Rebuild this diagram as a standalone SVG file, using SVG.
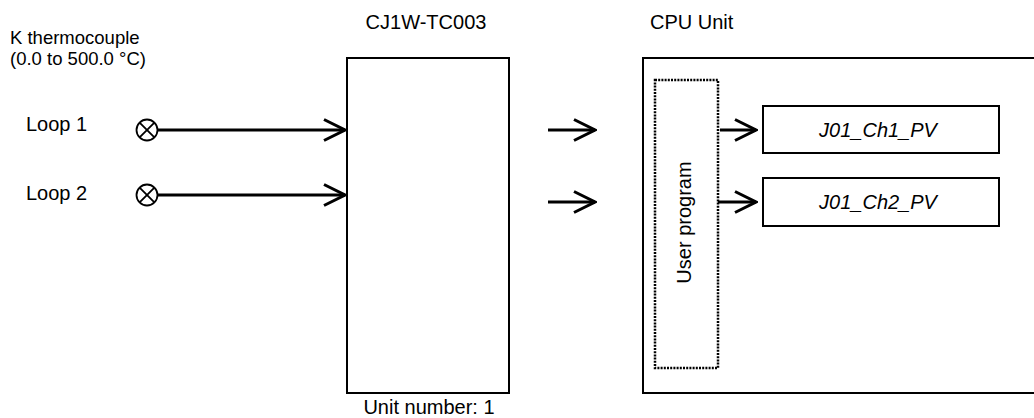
<svg xmlns="http://www.w3.org/2000/svg" width="1034" height="418" viewBox="0 0 1034 418">
<defs>
<style>
text{font-family:"Liberation Sans",Arial,sans-serif;font-size:20px;fill:#000}
.small{font-size:18.5px}
.box{fill:#fff;stroke:#000;stroke-width:2}
.dot{fill:none;stroke:#000;stroke-width:2.5;stroke-dasharray:2 1.2}
.conn{fill:none;stroke:#000;stroke-width:3}
.sensor{fill:#fff;stroke:#000;stroke-width:1.8}
</style>
<marker id="ah" viewBox="0 0 24 24" refX="22" refY="12" markerWidth="24" markerHeight="24" markerUnits="userSpaceOnUse" orient="auto">
<path d="M1,1.5 L22,12 L1,22.5" fill="none" stroke="#000" stroke-width="3"/>
</marker>
</defs>
<rect width="1034" height="418" fill="#fff"/>
<g id="labels">
<text class="small" x="10" y="44">K thermocouple</text>
<text class="small" x="10" y="65">(0.0 to 500.0 °C)</text>
<text x="26" y="131">Loop 1</text>
<text x="26" y="200">Loop 2</text>
</g>
<g id="tc003">
<text x="426" y="29" text-anchor="middle">CJ1W-TC003</text>
<rect class="box" x="347" y="58" width="162" height="335"/>
<text x="429" y="414" text-anchor="middle">Unit number: 1</text>
</g>
<g id="cpu">
<text x="650" y="29">CPU Unit</text>
<rect class="box" x="643" y="58" width="400" height="335"/>
</g>
<g id="userprog">
<rect class="dot" x="655" y="80" width="63" height="288"/>
<text transform="translate(691,222.5) rotate(-90)" text-anchor="middle">User program</text>
</g>
<g id="ch1pv">
<rect class="box" x="763" y="106" width="236" height="47"/>
<text x="878" y="137" text-anchor="middle" font-style="italic">J01_Ch1_PV</text>
</g>
<g id="ch2pv">
<rect class="box" x="763" y="178" width="236" height="48"/>
<text x="878" y="209" text-anchor="middle" font-style="italic">J01_Ch2_PV</text>
</g>
<g id="sensors">
<g class="sensor"><circle cx="147" cy="130" r="10.5"/><path d="M139.6,122.6 L154.4,137.4 M154.4,122.6 L139.6,137.4"/></g>
<g class="sensor"><circle cx="147" cy="195" r="10.5"/><path d="M139.6,187.6 L154.4,202.4 M154.4,187.6 L139.6,202.4"/></g>
</g>
<g id="connectors">
<line class="conn" x1="157.5" y1="130" x2="345" y2="130" marker-end="url(#ah)"/>
<line class="conn" x1="157.5" y1="195" x2="345" y2="195" marker-end="url(#ah)"/>
<line class="conn" x1="548" y1="130" x2="595" y2="130" marker-end="url(#ah)"/>
<line class="conn" x1="548" y1="202" x2="595" y2="202" marker-end="url(#ah)"/>
<line class="conn" x1="720" y1="130" x2="756" y2="130" marker-end="url(#ah)"/>
<line class="conn" x1="718" y1="202" x2="756" y2="202" marker-end="url(#ah)"/>
</g>
</svg>
